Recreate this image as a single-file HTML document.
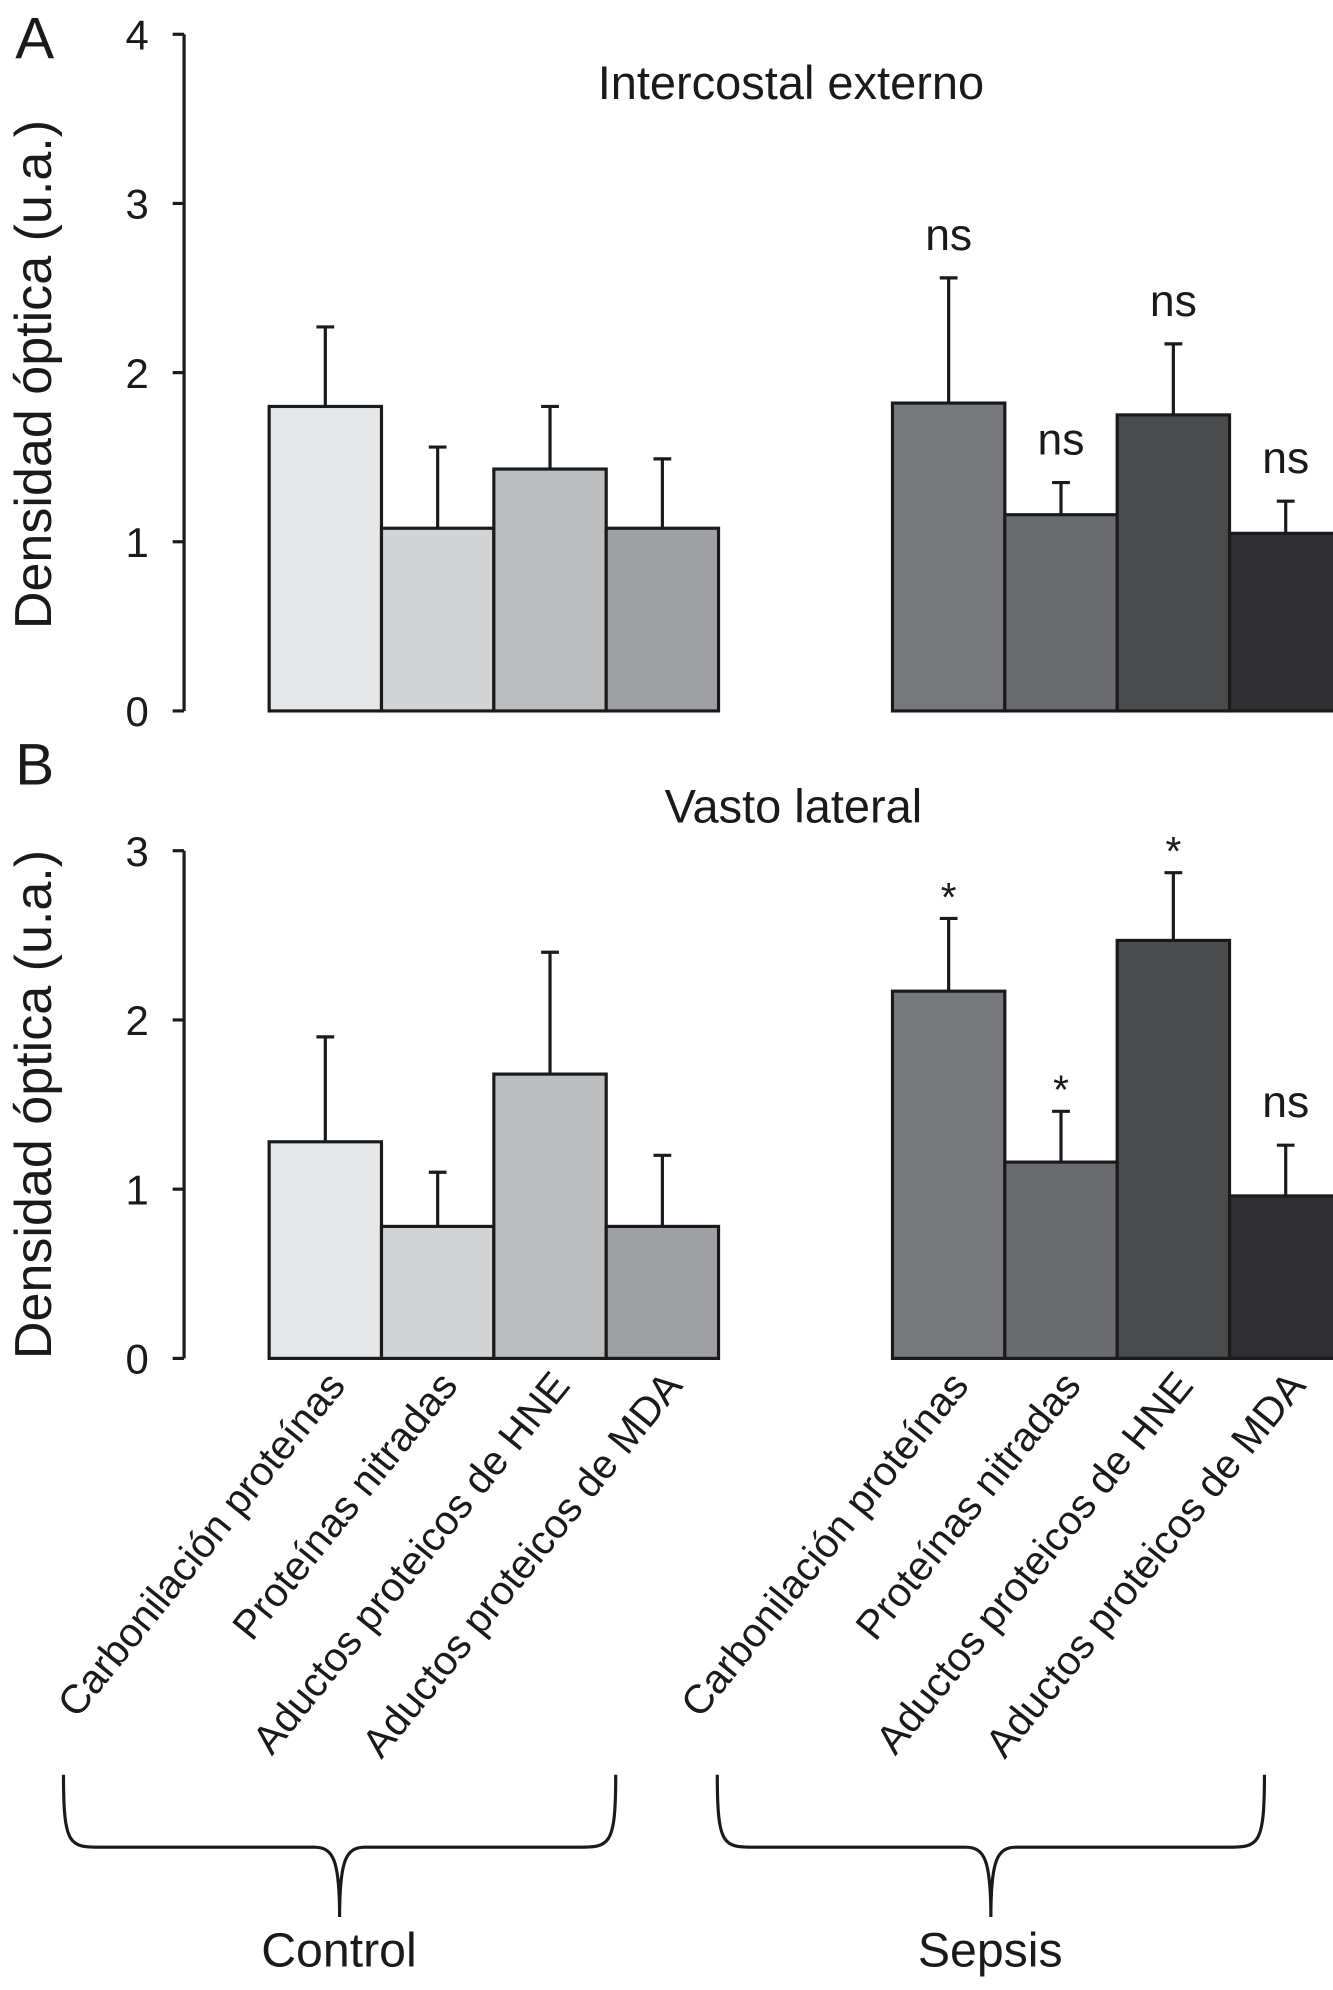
<!DOCTYPE html>
<html><head><meta charset="utf-8"><style>
html,body{margin:0;padding:0;background:#fff;}
svg{display:block;font-family:"Liberation Sans",sans-serif;}
</style></head><body>
<svg id="chart" width="1333" height="1990" viewBox="0 0 1050 1567.5" xmlns="http://www.w3.org/2000/svg">
<g id="root"></g>
</svg>
<script>
const categories = ["Carbonilación proteínas","Proteínas nitradas","Aductos proteicos de HNE","Aductos proteicos de MDA"];
const groups = ["Control","Sepsis"];
const aControl = [1.80,1.08,1.43,1.08];
const aControlErr = [0.47,0.48,0.37,0.41];
const aSepsis = [1.82,1.16,1.75,1.05];
const aSepsisErr = [0.74,0.19,0.42,0.19];
const aSepsisSig = ["ns","ns","ns","ns"];
const bControl = [1.28,0.78,1.68,0.78];
const bControlErr = [0.62,0.32,0.72,0.42];
const bSepsis = [2.17,1.16,2.47,0.96];
const bSepsisErr = [0.43,0.30,0.40,0.30];
const bSepsisSig = ["*","*","*","ns"];
const aTicks = [0,1,2,3,4];
const bTicks = [0,1,2,3];

const NS="http://www.w3.org/2000/svg";
const root=document.getElementById('root');
function mk(tag,attrs,parent,text){const e=document.createElementNS(NS,tag);for(const k in attrs)e.setAttribute(k,attrs[k]);if(text!==undefined)e.textContent=text;(parent||root).appendChild(e);return e;}
const colorsC=["#e6e7e9","#d2d3d5","#bcbdbf","#9fa0a3"];
const colorsS=["#77787b","#6a6b6e","#4a4b4d","#2f2e31"];
const ctrlX0=212, sepX0=703, bw=88.5;
const INK='#1a1a1a';

function panel(id,y0,unit,ticks,ctrl,ctrlE,sep,sepE,sig){
  const g=mk('g',{});
  
  
  const y=v=>y0-v*unit;
  const top=ticks[ticks.length-1];
  const ax=mk('line',{x1:145,x2:145,y1:y(top),y2:y0,stroke:INK,'stroke-width':2.5},g);
  
  
  ticks.forEach(t=>{
    const tl=mk('line',{x1:136,x2:145,y1:y(t),y2:y(t),stroke:INK,'stroke-width':2.5},g);
    
    
    const tx=mk('text',{x:108,y:y(t)+12,'text-anchor':'middle','font-size':33,fill:INK},g,String(t));
    
    
  });
  function bars(vals,errs,x0,cols,sigs,name){
    vals.forEach((v,i)=>{
      const x=x0+i*bw, cx=x+bw/2;
      const eb=mk('line',{x1:cx,x2:cx,y1:y(v),y2:y(v+errs[i]),stroke:INK,'stroke-width':2.5},g);
      
      
      const cap=mk('line',{x1:cx-7,x2:cx+7,y1:y(v+errs[i]),y2:y(v+errs[i]),stroke:INK,'stroke-width':2.5},g);
      
      
      const r=mk('rect',{x:x,y:y(v),width:bw,height:v*unit,fill:cols[i],stroke:INK,'stroke-width':2.5},g);
      
      
      if(sigs){
        const s=sigs[i];
        const t=mk('text',{x:cx,y:y(v+errs[i])-(s==='ns'?22:6),'text-anchor':'middle','font-size':s==='ns'?35:32,fill:INK},g,s);
        
        
      }
    });
  }
  bars(ctrl,ctrlE,ctrlX0,colorsC,null,'control');
  bars(sep,sepE,sepX0,colorsS,sig,'sepsis');
}
panel('panel-a',560,133.25,aTicks,aControl,aControlErr,aSepsis,aSepsisErr,aSepsisSig);
panel('panel-b',1070,133.3,bTicks,bControl,bControlErr,bSepsis,bSepsisErr,bSepsisSig);

function txt(name,attrs,s){const t=mk('text',attrs,root,s);return t;}
txt('panel-letter-a',{x:12,y:46,'font-size':46,fill:INK},'A');
txt('panel-letter-b',{x:12,y:618,'font-size':46,fill:INK},'B');
txt('panel-a-title',{x:623,y:78,'text-anchor':'middle','font-size':37,fill:INK},'Intercostal externo');
txt('panel-b-title',{x:625,y:648,'text-anchor':'middle','font-size':37,fill:INK},'Vasto lateral');
txt('y-axis-title-a',{x:0,y:0,'text-anchor':'middle','font-size':41,fill:INK,transform:'translate(40,295) rotate(-90)'},'Densidad óptica (u.a.)');
txt('y-axis-title-b',{x:0,y:0,'text-anchor':'middle','font-size':41,fill:INK,transform:'translate(40,870) rotate(-90)'},'Densidad óptica (u.a.)');
[ctrlX0,sepX0].forEach((x0,gi)=>{
  categories.forEach((c,i)=>{
    const cx=x0+i*bw+bw/2+17;
    txt('x-label-'+groups[gi].toLowerCase()+'-'+(i+1),{x:0,y:0,'text-anchor':'end','font-size':32,fill:INK,transform:`translate(${cx},1092) rotate(-51)`},c);
  });
});
function brace(x1,x2,name){
  const m=(x1+x2)/2, yt=1398, yb=1455, yp=1510;
  const p=mk('path',{d:`M${x1},${yt} C${x1},${yb} ${x1+5},${yb} ${x1+30},${yb} L${m-20},${yb} C${m-5},${yb} ${m},${yb+10} ${m},${yp} C${m},${yb+10} ${m+5},${yb} ${m+20},${yb} L${x2-30},${yb} C${x2-5},${yb} ${x2},${yb} ${x2},${yt}`,fill:'none',stroke:INK,'stroke-width':2.5});
  
  
}
brace(50,485,'control-brace');
brace(565,996,'sepsis-brace');
txt('group-label-control',{x:267,y:1549,'text-anchor':'middle','font-size':38,fill:INK},groups[0]);
txt('group-label-sepsis',{x:780,y:1549,'text-anchor':'middle','font-size':38,fill:INK},groups[1]);
</script>
</body></html>
